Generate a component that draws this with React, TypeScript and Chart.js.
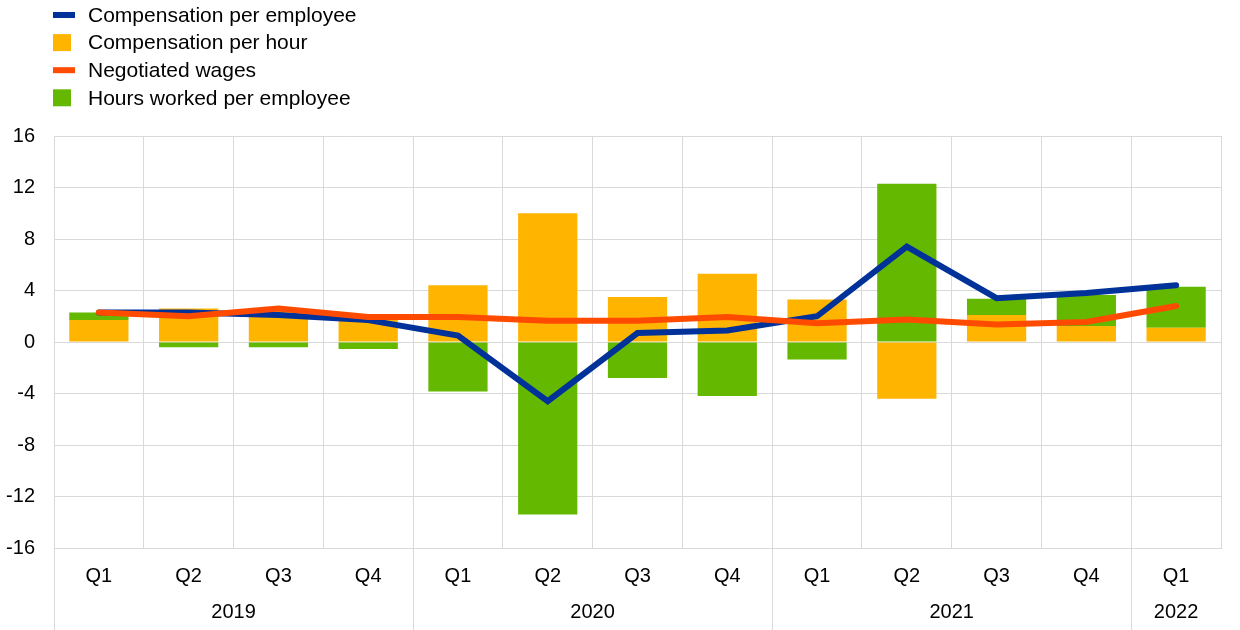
import React, { useEffect, useRef } from 'react';
import { Chart, registerables } from 'chart.js';

Chart.register(...registerables);

const quarters = ['Q1', 'Q2', 'Q3', 'Q4', 'Q1', 'Q2', 'Q3', 'Q4', 'Q1', 'Q2', 'Q3', 'Q4', 'Q1'];
const years = ['2019', '2020', '2021', '2022'];
const yearSpans = [4, 4, 4, 1];

const compPerEmployee = [2.3, 2.3, 2.1, 1.7, 0.5, -4.6, 0.7, 0.9, 2.0, 7.4, 3.4, 3.8, 4.4];
const compPerHour = [1.7, 2.6, 2.5, 1.8, 4.4, 10.0, 3.5, 5.3, 3.3, -4.4, 2.1, 1.25, 1.1];
const negotiatedWages = [2.3, 2.0, 2.6, 1.95, 1.95, 1.65, 1.65, 1.95, 1.45, 1.75, 1.35, 1.55, 2.8];
const hoursWorked = [0.6, -0.4, -0.4, -0.55, -3.85, -13.4, -2.8, -4.2, -1.35, 12.3, 1.25, 2.4, 3.2];

const yMin = -16;
const yMax = 16;
const yStep = 4;

const BLUE = '#003299';
const YELLOW = '#FFB400';
const ORANGE = '#FF4B00';
const GREEN = '#65B800';
const GRID = '#d9d9d9';
const FONT = '"Liberation Sans", Arial, sans-serif';

const legendItems = [
  { label: 'Compensation per employee', color: BLUE, kind: 'line' },
  { label: 'Compensation per hour', color: YELLOW, kind: 'box' },
  { label: 'Negotiated wages', color: ORANGE, kind: 'line' },
  { label: 'Hours worked per employee', color: GREEN, kind: 'box' },
];

const legendPlugin = {
  id: 'customLegend',
  afterDraw(chart: any) {
    const ctx = chart.ctx;
    ctx.save();
    ctx.font = `21px ${FONT}`;
    ctx.textBaseline = 'middle';
    ctx.textAlign = 'left';
    legendItems.forEach((it, i) => {
      const cy = 15 + i * 27.6;
      ctx.fillStyle = it.color;
      if (it.kind === 'line') {
        ctx.fillRect(53, cy - 3, 22, 6);
      } else {
        ctx.fillRect(53, cy - 8.5, 18, 17);
      }
      ctx.fillStyle = '#000';
      ctx.fillText(it.label, 88, cy + 1);
    });
    ctx.restore();
  },
};

const yearAxisPlugin = {
  id: 'yearAxis',
  afterDraw(chart: any) {
    const ctx = chart.ctx;
    const x = chart.scales.x;
    const area = chart.chartArea;
    const half = (x.getPixelForValue(1) - x.getPixelForValue(0)) / 2;
    ctx.save();
    ctx.strokeStyle = GRID;
    ctx.lineWidth = 1;
    ctx.font = `20px ${FONT}`;
    ctx.fillStyle = '#000';
    ctx.textAlign = 'center';
    ctx.textBaseline = 'middle';
    let start = 0;
    const bounds: number[] = [x.getPixelForValue(0) - half];
    yearSpans.forEach((span, i) => {
      const left = x.getPixelForValue(start) - half;
      const right = x.getPixelForValue(start + span - 1) + half;
      bounds.push(right);
      ctx.fillText(years[i], (left + right) / 2, 612);
      start += span;
    });
    bounds.forEach((bx, i) => {
      if (i === bounds.length - 1) return;
      const px = Math.round(bx) + 0.5;
      ctx.beginPath();
      ctx.moveTo(px, area.bottom);
      ctx.lineTo(px, chart.height);
      ctx.stroke();
    });
    ctx.restore();
  },
};

export default function App() {
  const ref = useRef<HTMLCanvasElement>(null);
  useEffect(() => {
    document.body.style.margin = '0';
    const chart = new Chart(ref.current as HTMLCanvasElement, {
      type: 'bar',
      data: {
        labels: quarters,
        datasets: [
          {
            type: 'line',
            label: 'Compensation per employee',
            data: compPerEmployee,
            borderColor: BLUE,
            backgroundColor: BLUE,
            borderWidth: 6,
            pointRadius: 0,
            tension: 0,
            borderCapStyle: 'round',
            stack: 'l1',
            order: 1,
          } as any,
          {
            type: 'bar',
            label: 'Compensation per hour',
            data: compPerHour,
            backgroundColor: YELLOW,
            stack: 'bars',
            order: 2,
          },
          {
            type: 'line',
            label: 'Negotiated wages',
            data: negotiatedWages,
            borderColor: ORANGE,
            backgroundColor: ORANGE,
            borderWidth: 6,
            pointRadius: 0,
            tension: 0,
            borderCapStyle: 'round',
            stack: 'l2',
            order: 0,
          } as any,
          {
            type: 'bar',
            label: 'Hours worked per employee',
            data: hoursWorked,
            backgroundColor: GREEN,
            stack: 'bars',
            order: 3,
          },
        ],
      },
      options: {
        animation: false,
        responsive: false,
        layout: { padding: { top: 136, right: 19, left: 0, bottom: 0 } },
        datasets: { bar: { categoryPercentage: 1, barPercentage: 0.66 } },
        plugins: { legend: { display: false }, tooltip: { enabled: false } },
        scales: {
          x: {
            stacked: true,
            grid: { color: GRID, offset: true, drawTicks: false },
            border: { color: GRID },
            ticks: { color: '#000', font: { family: FONT, size: 20 }, padding: 16, maxRotation: 0 },
            afterFit: (s: any) => { s.height = 82; },
          },
          y: {
            stacked: true,
            min: yMin,
            max: yMax,
            grid: { color: GRID, drawTicks: false },
            border: { color: GRID },
            ticks: { stepSize: yStep, color: '#000', font: { family: FONT, size: 20 }, padding: 19 },
            afterFit: (s: any) => { s.width = 54; },
          },
        },
      },
      plugins: [legendPlugin, yearAxisPlugin],
    });
    return () => chart.destroy();
  }, []);
  return (
    <div style={{ width: 1240, height: 630, overflow: 'hidden' }}>
      <canvas ref={ref} width={1240} height={630} />
    </div>
  );
}
